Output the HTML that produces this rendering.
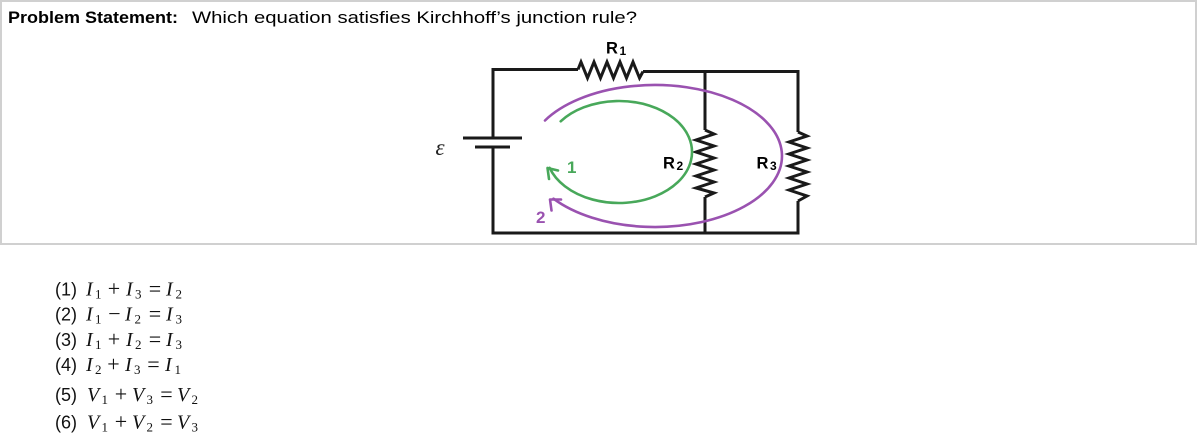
<!DOCTYPE html>
<html>
<head>
<meta charset="utf-8">
<style>
  html,body{margin:0;padding:0;background:#fff;}
  body{width:1200px;height:438px;overflow:hidden;}
  svg{display:block;}
  .sans{font-family:"Liberation Sans",sans-serif;}
  .serif{font-family:"Liberation Serif",serif;}
</style>
</head>
<body>
<svg width="1200" height="438" viewBox="0 0 1200 438" xmlns="http://www.w3.org/2000/svg">
  <!-- box -->
  <rect x="1" y="1" width="1195" height="243" fill="#fff" stroke="#d0d0d0" stroke-width="2"/>

  <!-- title -->
  <text class="sans" x="8" y="23" font-size="17" font-weight="bold" fill="#000" textLength="170" lengthAdjust="spacingAndGlyphs">Problem Statement:</text>
  <text class="sans" x="192" y="23" font-size="17" fill="#000" textLength="445" lengthAdjust="spacingAndGlyphs">Which equation satisfies Kirchhoff’s junction rule?</text>

  <!-- circuit wires -->
  <g fill="none" stroke="#1a1a1a" stroke-width="3" stroke-linejoin="miter">
    <polyline points="493,138 493,69.5 578,69.5"/>
    <polyline points="578,69.5 581,62 587.5,78 594,62 600.5,78 607,62 613.5,78 620,62 626.5,78 633,62 639.5,78 643,71.5"/>
    <polyline points="643,71.5 798,71.5 798,132"/>
    <polyline points="798,132 807,136 789,142 807,148 789,154 807,160 789,166 807,172 789,178 807,184 789,190 807,196 798,201"/>
    <polyline points="798,201 798,233 493,233 493,147"/>
    <polyline points="705,71.5 705,130"/>
    <polyline points="705,130 714,134 696,140 714,146 696,152 714,158 696,164 714,170 696,176 714,182 696,188 714,193 705,197"/>
    <polyline points="705,197 705,233"/>
    <line x1="463" y1="138" x2="522" y2="138"/>
    <line x1="475" y1="147" x2="510" y2="147"/>
  </g>

  <!-- emf symbol -->
  <text class="serif" x="440" y="155" font-size="23" font-style="italic" fill="#222" text-anchor="middle">ε</text>

  <!-- resistor labels -->
  <text class="sans" x="606" y="53.5" font-size="16.5" font-weight="bold" fill="#000">R</text>
  <text class="sans" x="619.5" y="55" font-size="12" font-weight="bold" fill="#000">1</text>
  <text class="sans" x="663" y="168.5" font-size="16.5" font-weight="bold" fill="#000">R</text>
  <text class="sans" x="676.5" y="170" font-size="12" font-weight="bold" fill="#000">2</text>
  <text class="sans" x="756.5" y="168.5" font-size="16.5" font-weight="bold" fill="#000">R</text>
  <text class="sans" x="770" y="170" font-size="12" font-weight="bold" fill="#000">3</text>

  <!-- loop 1 (green) -->
  <g fill="none" stroke="#48a85a" stroke-width="2.6" stroke-linecap="round" stroke-linejoin="round">
    <path d="M560.7,121.3 A73,51 0 1,1 549.6,167.8"/>
    <polyline points="558,170.5 547.5,168 549,179"/>
  </g>
  <text class="sans" x="567" y="173" font-size="17" font-weight="bold" fill="#48a85a">1</text>

  <!-- loop 2 (purple) -->
  <g fill="none" stroke="#9a52b0" stroke-width="2.6" stroke-linecap="round" stroke-linejoin="round">
    <path d="M545,120.5 A127,71 0 1,1 553.5,198.7"/>
    <polyline points="561,199.5 550,199.5 551.5,210.5"/>
  </g>
  <text class="sans" x="536" y="223" font-size="17" font-weight="bold" fill="#9a52b0">2</text>

  <!-- equations -->
  <g fill="#111">
    <!-- line 1 -->
    <text class="sans" x="55" y="295.5" font-size="18">(1)</text>
    <text class="serif" x="86" y="295.5" font-size="20" font-style="italic">I</text>
    <text class="serif" x="95" y="298.5" font-size="13">1</text>
    <text class="serif" x="114" y="296" font-size="22" text-anchor="middle">+</text>
    <text class="serif" x="126" y="295.5" font-size="20" font-style="italic">I</text>
    <text class="serif" x="135" y="298.5" font-size="13">3</text>
    <text class="serif" x="155" y="296" font-size="22" text-anchor="middle">=</text>
    <text class="serif" x="166" y="295.5" font-size="20" font-style="italic">I</text>
    <text class="serif" x="175.5" y="298.5" font-size="13">2</text>

    <!-- line 2 -->
    <text class="sans" x="55" y="320.7" font-size="18">(2)</text>
    <text class="serif" x="86" y="320.7" font-size="20" font-style="italic">I</text>
    <text class="serif" x="95" y="323.7" font-size="13">1</text>
    <text class="serif" x="114.5" y="321.2" font-size="22" text-anchor="middle">−</text>
    <text class="serif" x="125" y="320.7" font-size="20" font-style="italic">I</text>
    <text class="serif" x="134.5" y="323.7" font-size="13">2</text>
    <text class="serif" x="155" y="321.2" font-size="22" text-anchor="middle">=</text>
    <text class="serif" x="166" y="320.7" font-size="20" font-style="italic">I</text>
    <text class="serif" x="175.5" y="323.7" font-size="13">3</text>

    <!-- line 3 -->
    <text class="sans" x="55" y="346" font-size="18">(3)</text>
    <text class="serif" x="86" y="346" font-size="20" font-style="italic">I</text>
    <text class="serif" x="95" y="349" font-size="13">1</text>
    <text class="serif" x="114" y="346.5" font-size="22" text-anchor="middle">+</text>
    <text class="serif" x="126" y="346" font-size="20" font-style="italic">I</text>
    <text class="serif" x="135" y="349" font-size="13">2</text>
    <text class="serif" x="155" y="346.5" font-size="22" text-anchor="middle">=</text>
    <text class="serif" x="166" y="346" font-size="20" font-style="italic">I</text>
    <text class="serif" x="175.5" y="349" font-size="13">3</text>

    <!-- line 4 -->
    <text class="sans" x="55" y="371" font-size="18">(4)</text>
    <text class="serif" x="86" y="371" font-size="20" font-style="italic">I</text>
    <text class="serif" x="95" y="374" font-size="13">2</text>
    <text class="serif" x="113.5" y="371.5" font-size="22" text-anchor="middle">+</text>
    <text class="serif" x="125" y="371" font-size="20" font-style="italic">I</text>
    <text class="serif" x="134" y="374" font-size="13">3</text>
    <text class="serif" x="153.5" y="371.5" font-size="22" text-anchor="middle">=</text>
    <text class="serif" x="165" y="371" font-size="20" font-style="italic">I</text>
    <text class="serif" x="174.5" y="374" font-size="13">1</text>

    <!-- line 5 -->
    <text class="sans" x="55" y="401" font-size="18">(5)</text>
    <text class="serif" x="87" y="401" font-size="20" font-style="italic">V</text>
    <text class="serif" x="101.5" y="404" font-size="13">1</text>
    <text class="serif" x="121" y="401.5" font-size="22" text-anchor="middle">+</text>
    <text class="serif" x="132" y="401" font-size="20" font-style="italic">V</text>
    <text class="serif" x="146.5" y="404" font-size="13">3</text>
    <text class="serif" x="166.5" y="401.5" font-size="22" text-anchor="middle">=</text>
    <text class="serif" x="177" y="401" font-size="20" font-style="italic">V</text>
    <text class="serif" x="191.5" y="404" font-size="13">2</text>

    <!-- line 6 -->
    <text class="sans" x="55" y="428.5" font-size="18">(6)</text>
    <text class="serif" x="87" y="428.5" font-size="20" font-style="italic">V</text>
    <text class="serif" x="101.5" y="431.5" font-size="13">1</text>
    <text class="serif" x="121" y="429" font-size="22" text-anchor="middle">+</text>
    <text class="serif" x="132" y="428.5" font-size="20" font-style="italic">V</text>
    <text class="serif" x="146.5" y="431.5" font-size="13">2</text>
    <text class="serif" x="166.5" y="429" font-size="22" text-anchor="middle">=</text>
    <text class="serif" x="177" y="428.5" font-size="20" font-style="italic">V</text>
    <text class="serif" x="191.5" y="431.5" font-size="13">3</text>
  </g>
</svg>
</body>
</html>
